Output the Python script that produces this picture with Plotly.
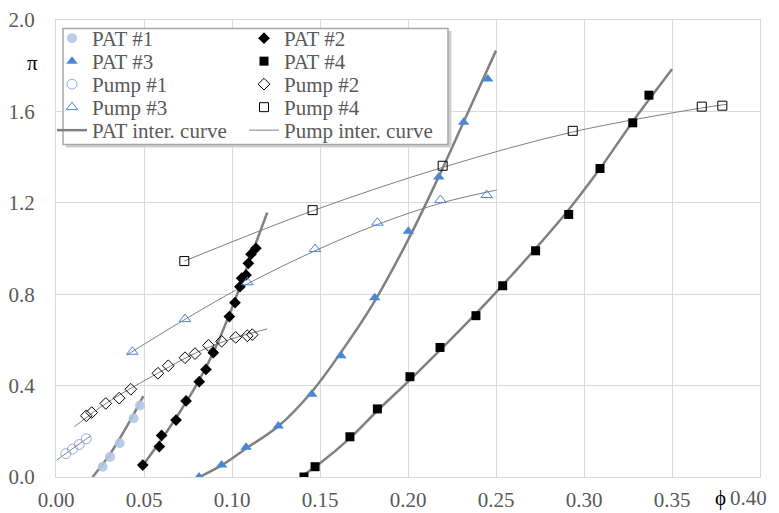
import plotly.graph_objects as go

# ---------------- data ----------------
pat1_phi = [0.0265, 0.0307, 0.0362, 0.0441, 0.0477]
pat1_pi = [0.045, 0.088, 0.148, 0.257, 0.313]

pat2_phi = [0.0493, 0.0587, 0.0600, 0.0682, 0.0739, 0.0814, 0.0852, 0.0894,
            0.0985, 0.1017, 0.1045, 0.1055, 0.1080, 0.1093, 0.1108, 0.1136]
pat2_pi = [0.052, 0.133, 0.182, 0.249, 0.333, 0.417, 0.471, 0.544,
           0.702, 0.763, 0.833, 0.870, 0.884, 0.935, 0.975, 1.001]

pat3_phi = [0.0813, 0.0941, 0.1080, 0.1263, 0.1453, 0.1619, 0.1811, 0.2002,
            0.2175, 0.2316, 0.2453]
pat3_pi = [0.0, 0.0525, 0.130, 0.223, 0.362, 0.531, 0.785, 1.075,
           1.313, 1.552, 1.742]

pat4_phi = [0.1409, 0.1472, 0.1670, 0.1826, 0.2011, 0.2182, 0.2386, 0.2538,
            0.2725, 0.2913, 0.3091, 0.3277, 0.3369]
pat4_pi = [0.0, 0.045, 0.176, 0.298, 0.439, 0.567, 0.706, 0.837,
           0.990, 1.149, 1.350, 1.550, 1.671]

pump1_phi = [0.0056, 0.0094, 0.0132, 0.0172]
pump1_pi = [0.102, 0.122, 0.142, 0.167]

pump2_phi = [0.0172, 0.0203, 0.0283, 0.0359, 0.0425, 0.0579, 0.0638, 0.0733,
             0.0790, 0.0866, 0.0941, 0.1021, 0.1087, 0.1115]
pump2_pi = [0.268, 0.282, 0.322, 0.345, 0.384, 0.454, 0.487, 0.522,
            0.540, 0.576, 0.594, 0.611, 0.618, 0.623]

pump3_phi = [0.0434, 0.0733, 0.1087, 0.1472, 0.1826, 0.2184, 0.2447]
pump3_pi = [0.548, 0.691, 0.852, 0.998, 1.113, 1.212, 1.234]

pump4_phi = [0.0729, 0.1458, 0.2197, 0.2936, 0.3669, 0.3786]
pump4_pi = [0.945, 1.168, 1.362, 1.515, 1.621, 1.625]

# interpolation curves
pat1_curve_phi = [0.0208, 0.0307, 0.0420, 0.0496]
pat1_curve_pi = [0.0, 0.100, 0.245, 0.354]
pat2_curve_phi = [0.0493, 0.0600, 0.0700, 0.0800, 0.0900, 0.1000, 0.1100, 0.1200]
pat2_curve_pi = [0.050, 0.165, 0.280, 0.405, 0.555, 0.740, 0.950, 1.157]
pat3_curve_phi = [0.0815, 0.0950, 0.1080, 0.1263, 0.1450, 0.1614, 0.1803,
                  0.2002, 0.2172, 0.2314, 0.2500]
pat3_curve_pi = [0.0, 0.055, 0.125, 0.222, 0.370, 0.540, 0.760,
                 1.040, 1.310, 1.550, 1.866]
pat4_curve_phi = [0.1390, 0.1500, 0.1670, 0.1826, 0.2011, 0.2182, 0.2386,
                  0.2538, 0.2725, 0.2913, 0.3091, 0.3277, 0.3500]
pat4_curve_pi = [0.0, 0.060, 0.170, 0.290, 0.425, 0.555, 0.715,
                 0.840, 1.000, 1.170, 1.350, 1.555, 1.784]

pump1_curve_phi = [0.0004, 0.0100, 0.0199]
pump1_curve_pi = [0.074, 0.127, 0.181]
pump2_curve_phi = [0.0104, 0.0300, 0.0580, 0.0800, 0.1000, 0.1200]
pump2_curve_pi = [0.220, 0.330, 0.455, 0.545, 0.605, 0.648]
pump3_curve_phi = [0.0402, 0.0733, 0.1087, 0.1472, 0.1826, 0.2184, 0.2504]
pump3_curve_pi = [0.534, 0.690, 0.845, 0.990, 1.105, 1.198, 1.256]
pump4_curve_phi = [0.0729, 0.1458, 0.2197, 0.2936, 0.3669, 0.3810]
pump4_curve_pi = [0.945, 1.165, 1.355, 1.510, 1.615, 1.631]

x_ticks = [0.00, 0.05, 0.10, 0.15, 0.20, 0.25, 0.30, 0.35, 0.40]
x_ticktext = ["0.00", "0.05", "0.10", "0.15", "0.20", "0.25", "0.30", "0.35", ""]
y_ticks = [0.0, 0.4, 0.8, 1.2, 1.6, 2.0]

# ---------------- layout helpers ----------------
# the page body has an 8px margin, so the figure is drawn 8px right/down
OFF = 8
W, H = 779 - OFF, 513
# plot area in page pixels
PL, PR, PT, PB = 56, 760, 20, 477
ML, MR, MT, MB = PL - OFF, W - (PR - OFF), PT - OFF, H - (PB - OFF)
PW, PH = PR - PL, PB - PT


def fx(px):
    return (px - PL) / PW


def fy(py):
    return (PB - py) / PH


FONT = "Liberation Serif"
GRID = "#D9D9D9"
TXT = "#595959"
BLUE = "#4A86D6"
CURVE = "#808080"

fig = go.Figure()

# legend slots: name -> (legend id, column, row)
col_x = [95, 287]
row_y = [40, 63, 86, 109, 132]
slots = {
    "PAT #1": ("legend", 0, 0), "PAT #2": ("legend2", 1, 0),
    "PAT #3": ("legend3", 0, 1), "PAT #4": ("legend4", 1, 1),
    "Pump #1": ("legend5", 0, 2), "Pump #2": ("legend6", 1, 2),
    "Pump #3": ("legend7", 0, 3), "Pump #4": ("legend8", 1, 3),
    "PAT inter. curve": ("legend9", 0, 4), "Pump inter. curve": ("legend10", 1, 4),
}

pat_curves = [(pat1_curve_phi, pat1_curve_pi), (pat2_curve_phi, pat2_curve_pi),
              (pat3_curve_phi, pat3_curve_pi), (pat4_curve_phi, pat4_curve_pi)]
pump_curves = [(pump1_curve_phi, pump1_curve_pi), (pump2_curve_phi, pump2_curve_pi),
               (pump3_curve_phi, pump3_curve_pi), (pump4_curve_phi, pump4_curve_pi)]

for i, (cx, cy) in enumerate(pump_curves):
    fig.add_trace(go.Scatter(
        x=cx, y=cy, mode="lines", name="Pump inter. curve",
        line=dict(color=CURVE, width=1, shape="spline", smoothing=1.0),
        legend=slots["Pump inter. curve"][0], legendgroup="pumpcurve",
        showlegend=(i == 0), hoverinfo="skip"))
for i, (cx, cy) in enumerate(pat_curves):
    fig.add_trace(go.Scatter(
        x=cx, y=cy, mode="lines", name="PAT inter. curve",
        line=dict(color=CURVE, width=2.5, shape="spline", smoothing=1.0),
        legend=slots["PAT inter. curve"][0], legendgroup="patcurve",
        showlegend=(i == 0), hoverinfo="skip"))

series = [
    ("PAT #1", pat1_phi, pat1_pi, dict(symbol="circle", size=10, color="rgba(180,199,231,0.9)")),
    ("PAT #2", pat2_phi, pat2_pi, dict(symbol="diamond", size=9, color="black")),
    ("PAT #3", pat3_phi, pat3_pi, dict(symbol="triangle-up", size=10, color=BLUE)),
    ("PAT #4", pat4_phi, pat4_pi, dict(symbol="square", size=9, color="black")),
    ("Pump #1", pump1_phi, pump1_pi, dict(symbol="circle-open", size=10, color="#8FAADC",
                                         line=dict(width=1))),
    ("Pump #2", pump2_phi, pump2_pi, dict(symbol="diamond-open", size=9, color="black",
                                         line=dict(width=1))),
    ("Pump #3", pump3_phi, pump3_pi, dict(symbol="triangle-up-open", size=10, color=BLUE,
                                         line=dict(width=1))),
    ("Pump #4", pump4_phi, pump4_pi, dict(symbol="square-open", size=9, color="black",
                                         line=dict(width=1))),
]
for name, xs, ys, mk in series:
    fig.add_trace(go.Scatter(x=xs, y=ys, mode="markers", name=name, marker=mk,
                             legend=slots[name][0], showlegend=True))

# legends (one per entry, placed on a 2x5 grid)
legend_layout = {}
for name, (lid, c, r) in slots.items():
    legend_layout[lid] = dict(
        x=fx(col_x[c] - 43), y=fy(row_y[r] - 1.5), xanchor="left", yanchor="middle",
        bgcolor="rgba(0,0,0,0)", borderwidth=0, visible=True,
        font=dict(family=FONT, size=21, color=TXT), itemwidth=30)

# legend frame (shadow + box)
shapes = [
    dict(type="rect", xref="paper", yref="paper", layer="above",
         x0=fx(66), x1=fx(451.5), y0=fy(31), y1=fy(147.5),
         fillcolor="#CFCFCF", line=dict(width=0)),
    dict(type="rect", xref="paper", yref="paper", layer="above",
         x0=fx(63), x1=fx(448), y0=fy(28.5), y1=fy(144.5),
         fillcolor="white", line=dict(color="#A6A6A6", width=1.5)),
]

annotations = [
    dict(text="π", xref="paper", yref="paper", x=fx(32), y=fy(63), showarrow=False,
         xanchor="center", yanchor="middle", font=dict(family=FONT, size=21, color="black")),
    dict(text="ϕ", xref="paper", yref="paper", x=fx(720), y=fy(498), showarrow=False,
         xanchor="center", yanchor="middle", font=dict(family=FONT, size=21, color="black")),
    dict(text="0.40", xref="paper", yref="paper", x=fx(748), y=fy(498), showarrow=False,
         xanchor="center", yanchor="middle", font=dict(family=FONT, size=21, color=TXT)),
]

fig.update_layout(
    width=W, height=H, showlegend=True,
    margin=dict(l=ML, r=MR, t=MT, b=MB, pad=0, autoexpand=False),
    plot_bgcolor="white", paper_bgcolor="white",
    font=dict(family=FONT, size=21, color=TXT),
    shapes=shapes, annotations=annotations,
    xaxis=dict(range=[0, 0.40], tickvals=x_ticks, ticktext=x_ticktext,
               showgrid=True, gridcolor=GRID, gridwidth=1, zeroline=False,
               showline=True, linecolor=GRID, linewidth=1, mirror=True,
               ticks="", ticklabelstandoff=4, automargin=False,
               tickfont=dict(family=FONT, size=21, color=TXT)),
    yaxis=dict(range=[0, 2.0], tickvals=y_ticks, tickformat=".1f",
               showgrid=True, gridcolor=GRID, gridwidth=1, zeroline=False,
               showline=True, linecolor=GRID, linewidth=1, mirror=True,
               ticks="", ticklabelstandoff=16, automargin=False,
               tickfont=dict(family=FONT, size=21, color=TXT)),
    **legend_layout,
)

fig.write_html("out.html")
